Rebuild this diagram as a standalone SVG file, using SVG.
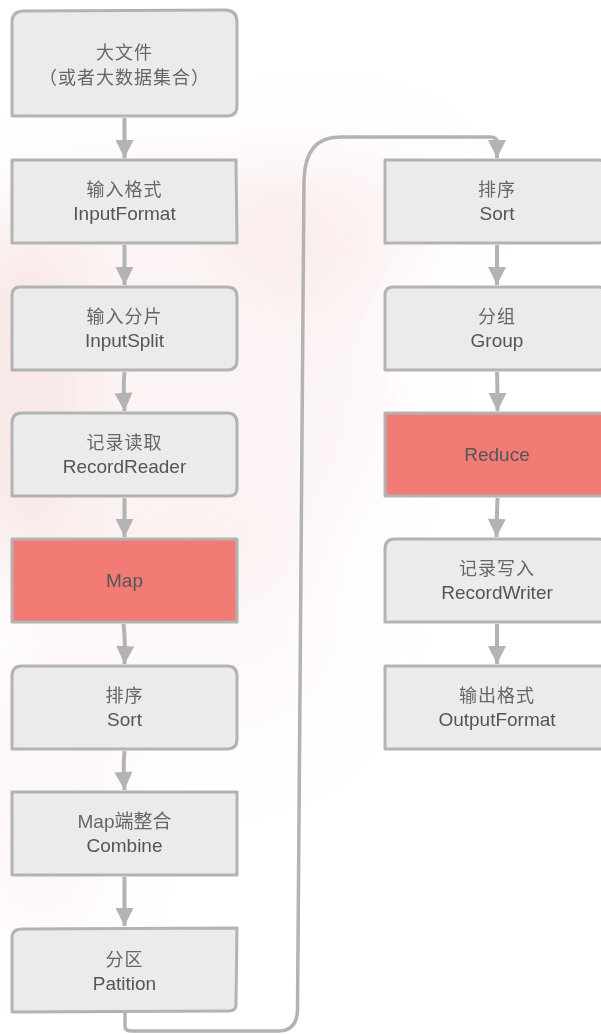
<svg xmlns="http://www.w3.org/2000/svg" width="601" height="1034" viewBox="0 0 601 1034">
<style>
.box{fill:#ebebeb;stroke:#b3b3b3;stroke-width:3;stroke-linejoin:round}
.hot{fill:#f27b76;stroke:#b3b3b3;stroke-width:3;stroke-linejoin:round}
.t{font-family:"Liberation Sans","Noto Sans CJK SC",sans-serif;font-size:19px;fill:#555;text-anchor:middle}
.c{font-family:"Liberation Sans","Noto Sans CJK SC",sans-serif;font-size:18px;fill:#666;text-anchor:middle;letter-spacing:1px}
.ln{fill:none;stroke:#b3b3b3;stroke-width:4}
.loop{fill:none;stroke:#b3b3b3;stroke-width:3.5;stroke-linejoin:round}
</style>
<defs>
<marker id="ah" markerUnits="userSpaceOnUse" markerWidth="20" markerHeight="20" refX="18" refY="9" orient="auto" overflow="visible">
<path d="M0,0 L18,9 L0,18 z" fill="#b3b3b3"/>
</marker>
<filter id="blur" x="-50%" y="-50%" width="200%" height="200%"><feGaussianBlur stdDeviation="40"/></filter>
</defs>
<rect width="601" height="1034" fill="#fff"/>
<g id="bg" filter="url(#blur)" fill="#e8a8a8">
<ellipse cx="160" cy="380" rx="230" ry="230" opacity="0.12"/>
<ellipse cx="330" cy="220" rx="110" ry="70" opacity="0.14"/>
<ellipse cx="20" cy="400" rx="60" ry="200" opacity="0.18"/>
<ellipse cx="40" cy="800" rx="70" ry="150" opacity="0.1"/>
<ellipse cx="200" cy="640" rx="160" ry="120" opacity="0.06"/>
</g>
<g id="connectors">
<line class="ln" x1="124.5" y1="118" x2="124.5" y2="158" marker-end="url(#ah)"/>
<line class="ln" x1="124.5" y1="245" x2="124.5" y2="285" marker-end="url(#ah)"/>
<path class="ln" d="M124.5,372 Q123,385 124.5,411" marker-end="url(#ah)"/>
<line class="ln" x1="124.5" y1="498" x2="124.5" y2="537" marker-end="url(#ah)"/>
<path class="ln" d="M123.5,624 Q125.5,640 124.5,664" marker-end="url(#ah)"/>
<path class="ln" d="M124.5,751 Q123,765 124.5,790" marker-end="url(#ah)"/>
<line class="ln" x1="124.5" y1="877" x2="124.5" y2="926" marker-end="url(#ah)"/>
<path class="loop" d="M125,1013 L125,1026 Q125,1031 131,1031 L278,1031 Q297,1031 297.5,1010 L304,180 Q305,137 340,137 L490,137 Q497,137 497,142"/>
<line class="ln" x1="497" y1="140" x2="497" y2="158" marker-end="url(#ah)"/>
<line class="ln" x1="497" y1="245" x2="497" y2="285" marker-end="url(#ah)"/>
<path class="ln" d="M497,372 Q497.5,385 497.5,411" marker-end="url(#ah)"/>
<path class="ln" d="M497.5,498 Q497,510 496.5,537" marker-end="url(#ah)"/>
<line class="ln" x1="497" y1="624" x2="497" y2="664" marker-end="url(#ah)"/>
</g>
<g id="n1"><path class="box" d="M12,116 L12,22 Q12,11 24,11 L225,10 Q237,10 237,22 L237,106 Q237,116 227,116 Z"/>
<text class="c" x="124.5" y="59">大文件</text><text class="c" x="124.5" y="84">（或者大数据集合）</text></g>
<g id="n2"><path class="box" d="M12,160 L236,160 L237,243 L12,243 Z"/>
<text class="c" x="124.5" y="196">输入格式</text><text class="t" x="124.5" y="220">InputFormat</text></g>
<g id="n3"><path class="box" d="M12,370 L12,295 Q12,287 20,287 L227,287 Q237,287 237,297 L237,360 Q237,370 227,370 Z"/>
<text class="c" x="124.5" y="323">输入分片</text><text class="t" x="124.5" y="347">InputSplit</text></g>
<g id="n4"><path class="box" d="M12,496 L12,423 Q12,413 22,413 L227,413 Q237,413 237,423 L237,488 Q237,496 229,496 Z"/>
<text class="c" x="124.5" y="449">记录读取</text><text class="t" x="124.5" y="473">RecordReader</text></g>
<g id="n5"><path class="hot" d="M12,539 L237,539 L237,622 L12,622 Z"/>
<text class="t" x="124.5" y="587">Map</text></g>
<g id="n6"><path class="box" d="M12,749 L12,676 Q12,666 22,666 L227,666 Q237,666 237,676 L237,739 Q237,749 227,749 Z"/>
<text class="c" x="124.5" y="702">排序</text><text class="t" x="124.5" y="726">Sort</text></g>
<g id="n7"><path class="box" d="M12,792 L237,792 L237,875 L12,875 Z"/>
<text class="c" x="124.5" y="828" style="letter-spacing:0;font-size:19px">Map端整合</text><text class="t" x="124.5" y="852">Combine</text></g>
<g id="n8"><path class="box" d="M12,1012 L12,938 Q12,929 22,929 L237,928 L236,1005 Q236,1011 228,1011 Z"/>
<text class="c" x="124.5" y="966">分区</text><text class="t" x="124.5" y="990">Patition</text></g>
<g id="n9"><path class="box" d="M385,243 L385,160 L598,160 Q610,160 610,172 L610,231 Q610,243 598,243 Z"/>
<text class="c" x="497" y="196">排序</text><text class="t" x="497" y="220">Sort</text></g>
<g id="n10"><path class="box" d="M385,370 L385,295 Q385,287 393,287 L598,287 Q610,287 610,299 L610,358 Q610,370 598,370 Z"/>
<text class="c" x="497" y="323">分组</text><text class="t" x="497" y="347">Group</text></g>
<g id="n11"><path class="hot" d="M385,496 L385,413 L598,413 Q610,413 610,425 L610,496 Z"/>
<text class="t" x="497" y="461">Reduce</text></g>
<g id="n12"><path class="box" d="M385,622 L385,549 Q385,539 395,539 L598,539 Q610,539 610,551 L610,614 Q610,622 602,622 Z"/>
<text class="c" x="497" y="575">记录写入</text><text class="t" x="497" y="599">RecordWriter</text></g>
<g id="n13"><path class="box" d="M385,666 L610,666 L610,749 L385,749 Z"/>
<text class="c" x="497" y="702">输出格式</text><text class="t" x="497" y="726">OutputFormat</text></g>
</svg>
